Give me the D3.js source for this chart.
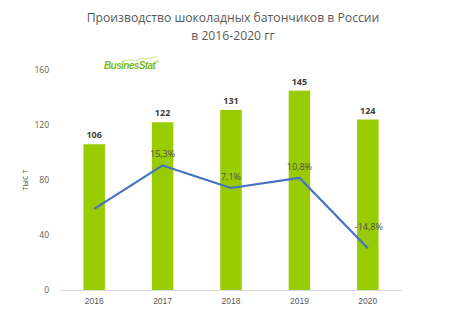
<!DOCTYPE html>
<html>
<head>
<meta charset="utf-8">
<script src="https://cdn.jsdelivr.net/npm/d3@7"></script>
<style>
  body { margin: 0; background: #fff; }
  svg { display: block; font-family: "Open Sans", "Noto Sans", sans-serif; }
</style>
</head>
<body>
<svg id="chart" width="459" height="325"></svg>
<script>
// Production volume, thousand tonnes, and year-on-year change, %
const years = ["2016", "2017", "2018", "2019", "2020"];
const volume = [106, 122, 131, 145, 124];
const growth = [-0.5, 15.3, 7.1, 10.8, -14.8];
const growthLabels = ["", "15,3%", "7,1%", "10,8%", "-14,8%"];
const yTicks = [0, 40, 80, 120, 160];

const svg = d3.select("#chart");
const margin = { left: 60, right: 57, top: 70, bottom: 35 };
const W = 459, H = 325;

const x = d3.scaleBand().domain(years).range([margin.left, W - margin.right]).paddingInner(0.686).paddingOuter(0.343);
const y = d3.scaleLinear().domain([0, 160]).range([H - margin.bottom, margin.top]);
const y2 = d3.scaleLinear().domain([-30, 50]).range([H - margin.bottom, margin.top]);

// Title
svg.append("text").attr("x", 233).attr("y", 22).attr("text-anchor", "middle")
  .attr("font-size", 12.2).attr("fill", "#595959")
  .text("Производство шоколадных батончиков в России");
svg.append("text").attr("x", 233).attr("y", 40).attr("text-anchor", "middle")
  .attr("font-size", 12.2).attr("fill", "#595959")
  .text("в 2016-2020 гг");

// Logo
const logo = svg.append("g").attr("transform", "translate(104,69)");
logo.append("path").attr("d", "M17,-7 C24,-10 28,-9 32,-8 C37,-12 41,-9 46,-11 C49,-12 51,-11 53,-13")
  .attr("fill", "none").attr("stroke", "#b7dc6e").attr("stroke-width", 0.8);
logo.append("text").attr("x", 0).attr("y", 0).attr("font-size", 10).attr("font-weight", "bold")
  .attr("font-style", "italic").attr("fill", "#7dbb1f").attr("letter-spacing", -0.6)
  .attr("font-family", "Liberation Sans, Arial, sans-serif")
  .text("BusinesStat");
logo.append("text").attr("x", 52).attr("y", -6).attr("font-size", 4).attr("fill", "#7dbb1f").text("®");

// Y axis (left)
const yAxis = d3.axisLeft(y).tickValues(yTicks).tickSize(0).tickPadding(0);
const gy = svg.append("g").attr("transform", `translate(${margin.left - 11},0)`).call(yAxis);
gy.select(".domain").remove();
gy.selectAll("text").attr("font-size", 8.5).attr("fill", "#595959")
  .attr("font-family", "Open Sans, sans-serif");

svg.append("text").attr("transform", "translate(28,180) rotate(-90)")
  .attr("text-anchor", "middle").attr("font-size", 8.5).attr("fill", "#595959")
  .text("тыс т");

// Bars
svg.append("g").selectAll("rect").data(volume).join("rect")
  .attr("x", (d, i) => x(years[i]))
  .attr("y", d => y(d))
  .attr("width", x.bandwidth())
  .attr("height", d => y(0) - y(d))
  .attr("fill", "#99cc00");

// X axis baseline and labels
const xAxis = d3.axisBottom(x).tickSize(0).tickPadding(8);
const gx = svg.append("g").attr("transform", `translate(0,${y(0)})`).call(xAxis);
gx.select(".domain").attr("stroke", "#d9d9d9").attr("d", `M${margin.left},0.5H${W - margin.right}`);
gx.selectAll("text").attr("font-size", 8.5).attr("fill", "#595959");

// Bar value labels
svg.append("g").selectAll("text").data(volume).join("text")
  .attr("x", (d, i) => x(years[i]) + x.bandwidth() / 2)
  .attr("y", d => y(d) - 6)
  .attr("text-anchor", "middle").attr("font-size", 9).attr("font-weight", "bold")
  .attr("fill", "#404040")
  .text(d => d);

// Growth line
const cx = i => x(years[i]) + x.bandwidth() / 2;
const line = d3.line().x((d, i) => cx(i)).y(d => y2(d));
svg.append("path").datum(growth).attr("d", line)
  .attr("fill", "none").attr("stroke", "#4472c4").attr("stroke-width", 2.2)
  .attr("stroke-linejoin", "round");

// Leader line for the last label
svg.append("line")
  .attr("x1", cx(4) - 1).attr("x2", cx(4) + 1)
  .attr("y1", y2(growth[4]) - 15).attr("y2", y2(growth[4]) - 4)
  .attr("stroke", "#a6a6a6").attr("stroke-width", 0.6);

// Growth labels
const labelOffsets = [0, -8, -8, -8, -18];
svg.append("g").selectAll("text").data(growth).join("text")
  .attr("x", (d, i) => cx(i) + (i === 4 ? 1 : 0))
  .attr("y", (d, i) => y2(d) + labelOffsets[i])
  .attr("text-anchor", "middle").attr("font-size", 9).attr("fill", "#505050")
  .text((d, i) => growthLabels[i]);
</script>
</body>
</html>
